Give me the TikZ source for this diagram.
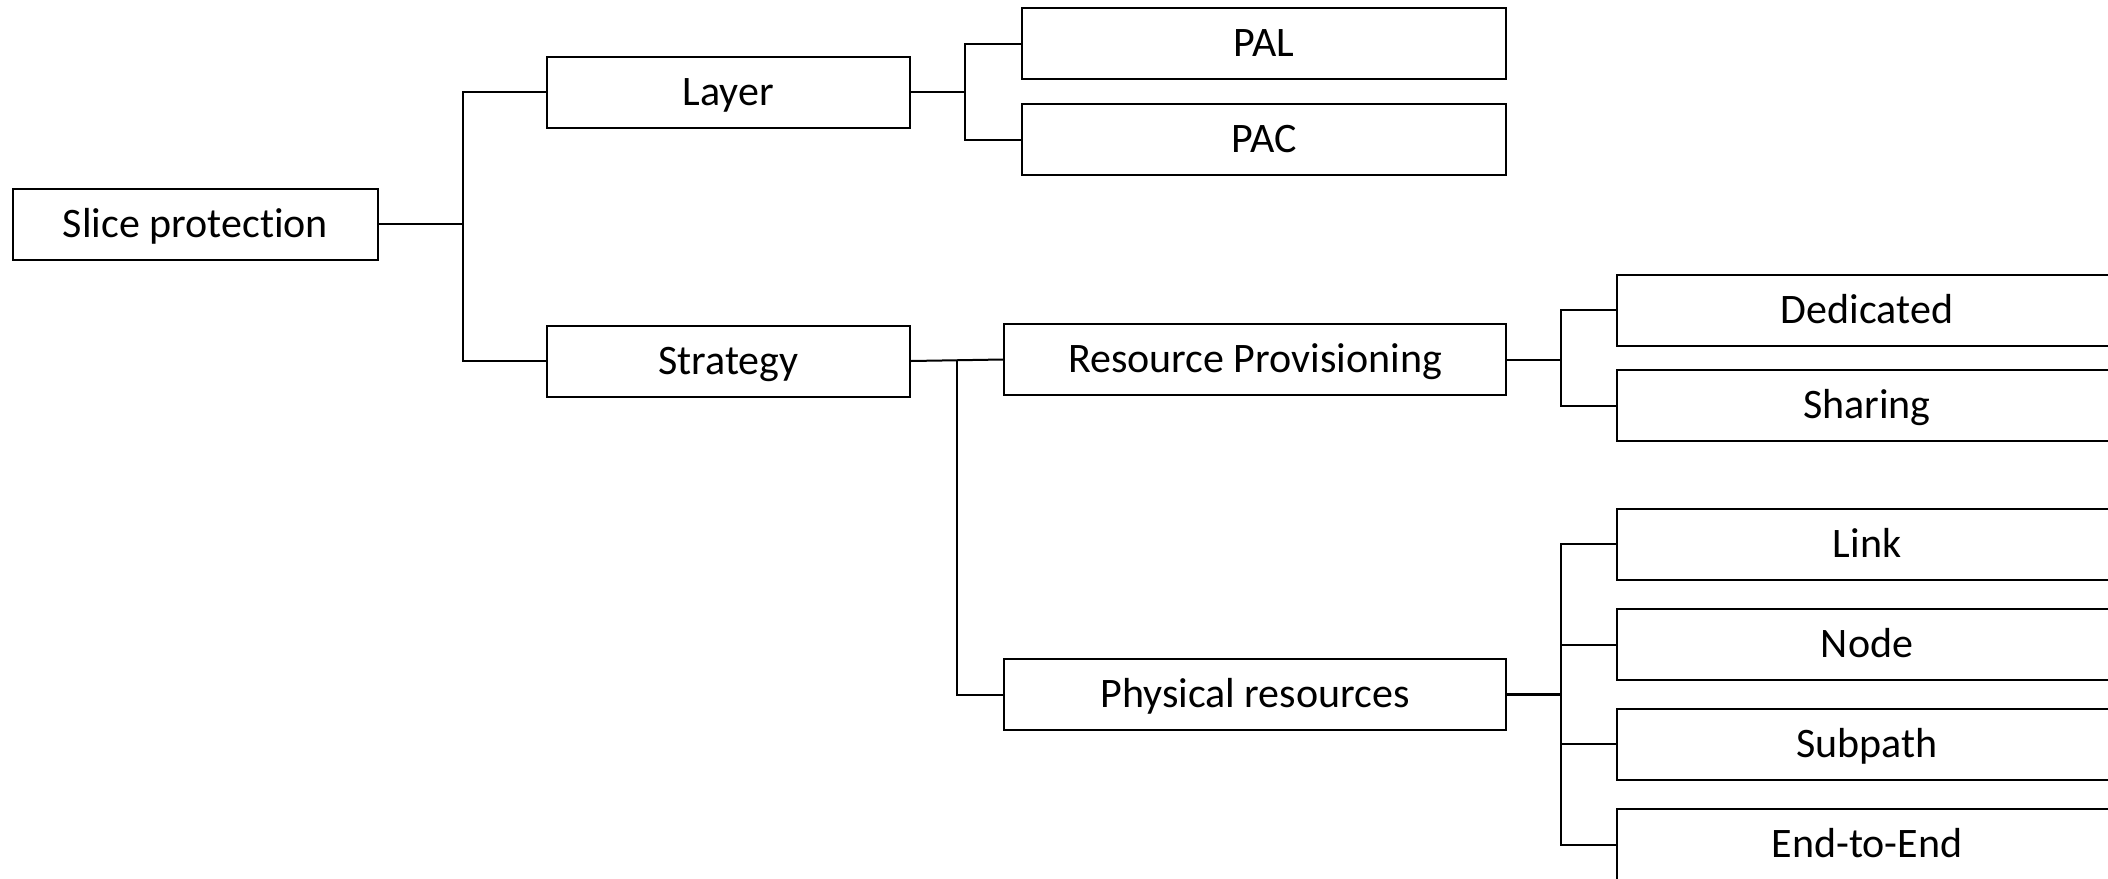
\documentclass[tikz,border=0pt]{standalone}
\usepackage{fontspec}
\setmainfont[Ligatures=CommonOff]{Carlito}
\begin{document}
\begin{tikzpicture}[x=1pt, y={(0pt,-1pt)},
  box/.style={draw=black, line width=2pt, rectangle, inner sep=0pt,
    minimum height=71pt, text height=34pt, text depth=8pt,
    font=\fontsize{42}{50}\selectfont, text=black},
  link/.style={draw=black, line width=2pt}]
  \clip (0,0) rectangle (2108,878);
  \fill[white] (0,0) rectangle (2108,878);

  % root and first level
  \node[box, minimum width=365pt] (slice) at (195.5,224) {Slice protection};
  \node[box, minimum width=363pt] (layer) at (728.5,92) {Layer};
  \node[box, minimum width=363pt] (strategy) at (728.5,361) {Strategy};

  % layer children
  \node[box, minimum width=484pt] (pal) at (1264,43.5) {PAL};
  \node[box, minimum width=484pt] (pac) at (1264,139.5) {PAC};

  % strategy children
  \node[box, minimum width=502pt] (rp) at (1255,359.5) {Resource Provisioning};
  \node[box, minimum width=502pt] (pr) at (1255,694.5) {Physical resources};

  % leaves (running past the right edge)
  \node[box, minimum width=500pt] (ded) at (1867,310) {Dedicated};
  \node[box, minimum width=500pt] (shr) at (1867,405.5) {Sharing};
  \node[box, minimum width=500pt] (lnk) at (1867,544) {Link};
  \node[box, minimum width=500pt] (nod) at (1867,644.5) {Node};
  \node[box, minimum width=500pt] (sub) at (1867,744) {Subpath};
  \node[box, minimum width=500pt] (e2e) at (1867,844.5) {End-to-End};

  % branch points
  \coordinate (j1) at (462.5,224);
  \coordinate (j2) at (965,92);
  \coordinate (j3) at (957,361);
  \coordinate (j4) at (1561,359.5);
  \coordinate (j5) at (1561,694.5);

  % connectors
  \draw[link] (slice.east) -- (j1);
  \draw[link] (layer.west) -| (j1);
  \draw[link] (strategy.west) -| (j1);

  \draw[link] (layer.east) -- (j2);
  \draw[link] (pal.west) -| (j2);
  \draw[link] (pac.west) -| (j2);

  \draw[link] (strategy.east) -- (rp.west);
  \draw[link] (pr.west) -| (j3);

  \draw[link] (rp.east) -- (j4);
  \draw[link] (ded.west) -| (j4);
  \draw[link] (shr.west) -| (j4);

  \draw[link, line width=3.5pt] (pr.east) -- (j5);
  \draw[link] (lnk.west) -| (j5);
  \draw[link] (nod.west) -| (j5);
  \draw[link] (sub.west) -| (j5);
  \draw[link] (e2e.west) -| (j5);
\end{tikzpicture}
\end{document}
